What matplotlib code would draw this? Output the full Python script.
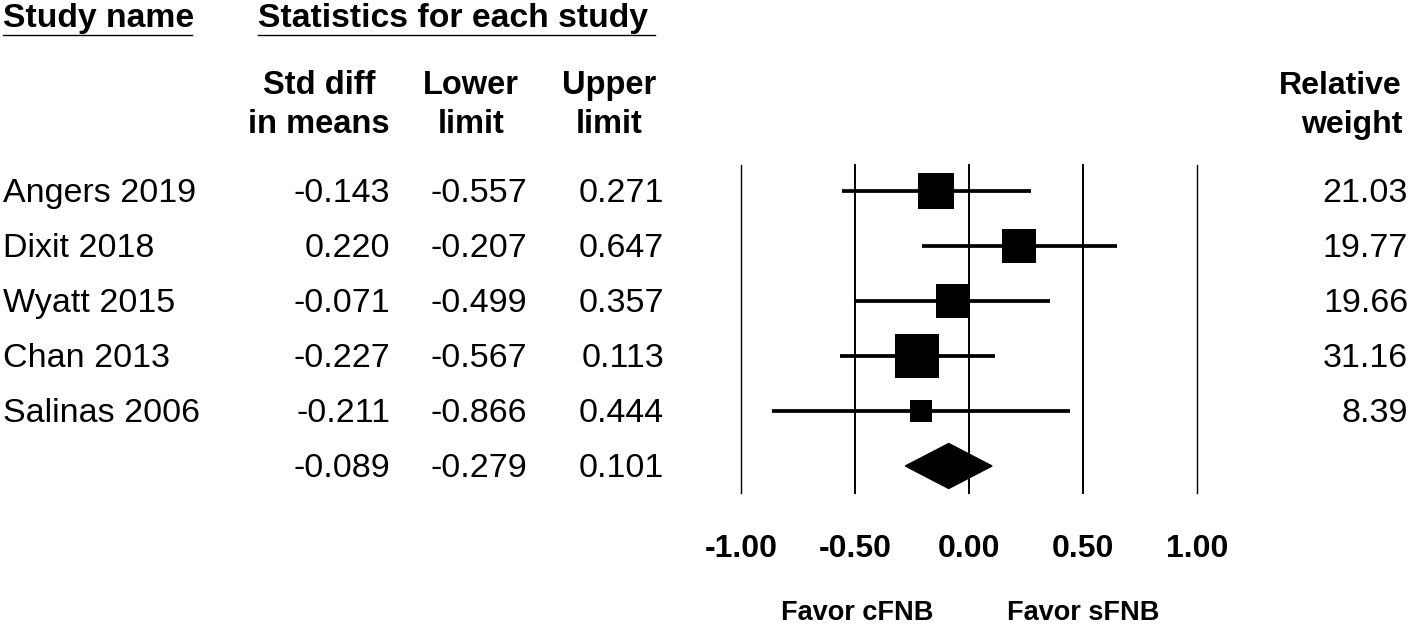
import matplotlib
matplotlib.use("Agg")
import matplotlib.pyplot as plt
from matplotlib.patches import Polygon
import numpy as np

plt.rcParams['font.family'] = ['Liberation Sans', 'DejaVu Sans']

studies = ["Angers 2019", "Dixit 2018", "Wyatt 2015", "Chan 2013", "Salinas 2006"]
std_diff = [-0.143, 0.220, -0.071, -0.227, -0.211]
lower = [-0.557, -0.207, -0.499, -0.567, -0.866]
upper = [0.271, 0.647, 0.357, 0.113, 0.444]
rel_weight = [21.03, 19.77, 19.66, 31.16, 8.39]
summary_est = -0.089
summary_lo = -0.279
summary_hi = 0.101
xticks = [-1.0, -0.5, 0.0, 0.5, 1.0]
xtick_labels = ["-1.00", "-0.50", "0.00", "0.50", "1.00"]
favor_left = "Favor cFNB"
favor_right = "Favor sFNB"

W, H = 1418, 626
fig = plt.figure(figsize=(W / 100, H / 100), dpi=100)

# overlay axes in pixel coordinates for the table text
ov = fig.add_axes([0, 0, 1, 1])
ov.set_xlim(0, W)
ov.set_ylim(H, 0)
ov.axis('off')

# forest axes: x -1..1 -> px 741..1197 ; rows at 191 + 55 i
x_left, x_right = 741, 1197
y_top, y_bot = 165, 493
row0, step = 191, 55
ax = fig.add_axes([x_left / W, 1 - y_bot / H, (x_right - x_left) / W, (y_bot - y_top) / H])
ax.set_xlim(-1, 1)
ax.set_ylim((y_bot - row0) / step, (y_top - row0) / step)
ax.axis('off')

def row_y(i):
    return row0 + step * i

fs_data = 24.5
fs_top = 24.3
fs_col = 23.5
base_off = 11

# headers
ov.text(3, 27, "Study name", fontsize=fs_top, fontweight='bold', ha='left', va='baseline')
ov.plot([3, 192], [35, 35], color='black', lw=1.0)
ov.text(258, 27, "Statistics for each study", fontsize=fs_top, fontweight='bold', ha='left', va='baseline')
ov.plot([258, 655], [35, 35], color='black', lw=1.0)
for cx, l1, l2 in [(319, "Std diff", "in means"), (471, "Lower", "limit"), (609, "Upper", "limit")]:
    ov.text(cx, 94, l1, fontsize=fs_col, fontweight='bold', ha='center', va='baseline')
    ov.text(cx, 133, l2, fontsize=fs_col, fontweight='bold', ha='center', va='baseline')
ov.text(1402, 94, "Relative", fontsize=23, fontweight='bold', ha='right', va='baseline')
ov.text(1402, 133, "weight", fontsize=23, fontweight='bold', ha='right', va='baseline')

# table rows
col_right = [390, 527, 664]
w_right = 1408
for i, name in enumerate(studies):
    y = row_y(i) + base_off
    ov.text(3, y, name, fontsize=fs_data, ha='left', va='baseline')
    ov.text(col_right[0], y, f"{std_diff[i]:.3f}", fontsize=fs_data, ha='right', va='baseline')
    ov.text(col_right[1], y, f"{lower[i]:.3f}", fontsize=fs_data, ha='right', va='baseline')
    ov.text(col_right[2], y, f"{upper[i]:.3f}", fontsize=fs_data, ha='right', va='baseline')
    ov.text(w_right, y, f"{rel_weight[i]:.2f}", fontsize=fs_data, ha='right', va='baseline')
ys = row_y(len(studies)) + base_off
ov.text(col_right[0], ys, f"{summary_est:.3f}", fontsize=fs_data, ha='right', va='baseline')
ov.text(col_right[1], ys, f"{summary_lo:.3f}", fontsize=fs_data, ha='right', va='baseline')
ov.text(col_right[2], ys, f"{summary_hi:.3f}", fontsize=fs_data, ha='right', va='baseline')

# vertical reference lines
ylo, yhi = ax.get_ylim()
for xv in xticks:
    lw = 1.0 if abs(xv) == 1.0 else 1.4
    ax.plot([xv, xv], [ylo, yhi], color='black', lw=lw, clip_on=False, zorder=1)

# study estimates
px_per_sqrtw = 7.85
for i in range(len(studies)):
    ax.plot([lower[i], upper[i]], [i, i], color='black', lw=2.7, solid_capstyle='butt', zorder=2)
    side_pt = px_per_sqrtw * np.sqrt(rel_weight[i]) * 0.72
    ax.plot([std_diff[i]], [i], marker='s', markersize=side_pt, color='black',
            markeredgewidth=0, zorder=3)

# summary diamond
n = len(studies)
h = 22.5 / step
dia = Polygon([[summary_lo, n], [summary_est, n - h], [summary_hi, n], [summary_est, n + h]],
              closed=True, facecolor='black', edgecolor='black', zorder=3)
ax.add_patch(dia)

# tick labels
ty = (557 - row0) / step
for xv, lab in zip(xticks, xtick_labels):
    ax.text(xv, ty, lab, fontsize=23, fontweight='bold', ha='center', va='baseline', clip_on=False)

fy = (620 - row0) / step
ax.text(-0.49, fy, favor_left, fontsize=19.5, fontweight='bold', ha='center', va='baseline', clip_on=False)
ax.text(0.50, fy, favor_right, fontsize=19.5, fontweight='bold', ha='center', va='baseline', clip_on=False)

fig.savefig("out.png", dpi=100)
